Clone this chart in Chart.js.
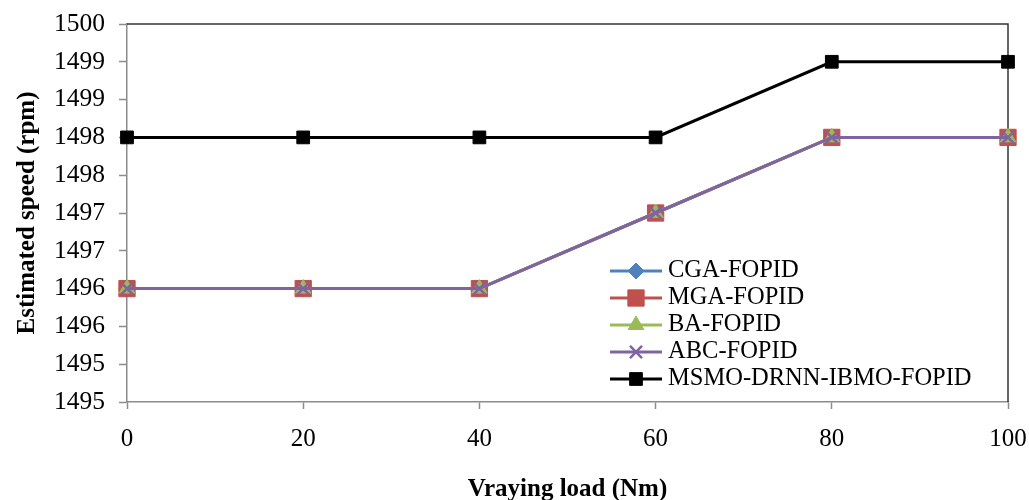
<!DOCTYPE html>
<html>
<head>
<meta charset="utf-8">
<script src="https://cdn.jsdelivr.net/npm/chart.js@4.4.0/dist/chart.umd.min.js"></script>
<style>
  html, body { margin: 0; padding: 0; background: #fff; }
  #wrap { width: 1029px; height: 500px; }
</style>
</head>
<body>
<div id="wrap"><canvas id="speedChart" width="1029" height="500"></canvas></div>
<script>
// load steps (Nm) and estimated speed per controller (rpm)
const loads = [0, 20, 40, 60, 80, 100];
const cgaFopid = [1496, 1496, 1496, 1497, 1498, 1498];
const mgaFopid = [1496, 1496, 1496, 1497, 1498, 1498];
const baFopid = [1496, 1496, 1496, 1497, 1498, 1498];
const abcFopid = [1496, 1496, 1496, 1497, 1498, 1498];
const msmoFopid = [1498, 1498, 1498, 1498, 1499, 1499];

// y ticks every 0.5 rpm, shown with no decimals
const speedTicks = [1494.5, 1495, 1495.5, 1496, 1496.5, 1497, 1497.5, 1498, 1498.5, 1499, 1499.5];

const serif = '"Liberation Serif", "Times New Roman", serif';
const axisGray = '#8c8c8c';

function series(label, data, color, style, radius, order, extra) {
    return Object.assign({
        label: label,
        data: data,
        borderColor: color,
        backgroundColor: color,
        borderWidth: 3,
        pointStyle: style,
        pointRadius: radius,
        pointHoverRadius: radius,
        pointBackgroundColor: color,
        pointBorderColor: color,
        pointBorderWidth: 1,
        tension: 0,
        fill: false,
        clip: false,
        order: order,
    }, extra || {});
}

// top and right frame lines of the plot area
const framePlugin = {
    id: 'frame',
    beforeDatasetsDraw(chart) {
        const { ctx, chartArea } = chart;
        ctx.save();
        ctx.strokeStyle = '#333';
        ctx.lineWidth = 1.5;
        ctx.beginPath();
        ctx.moveTo(chartArea.left, chartArea.top);
        ctx.lineTo(chartArea.right, chartArea.top);
        ctx.lineTo(chartArea.right, chartArea.bottom);
        ctx.stroke();
        ctx.restore();
    }
};

// legend drawn inside the plot, lower right
const insideLegend = {
    id: 'insideLegend',
    afterDraw(chart) {
        const ctx = chart.ctx;
        const x0 = 610, lineLen = 52, top = 271, rowGap = 27;
        chart.data.datasets.forEach((ds, i) => {
            const y = top + i * rowGap;
            ctx.save();
            ctx.strokeStyle = ds.borderColor;
            ctx.lineWidth = ds.borderWidth;
            ctx.beginPath();
            ctx.moveTo(x0, y);
            ctx.lineTo(x0 + lineLen, y);
            ctx.stroke();
            ctx.fillStyle = ds.pointBackgroundColor;
            ctx.strokeStyle = ds.pointBorderColor;
            ctx.lineWidth = ds.pointBorderWidth;
            Chart.helpers.drawPoint(ctx, {
                pointStyle: ds.pointStyle,
                radius: ds.pointRadius,
                rotation: 0,
                borderWidth: ds.pointBorderWidth
            }, x0 + lineLen / 2, y);
            ctx.fillStyle = '#000';
            ctx.font = '24.5px ' + serif;
            ctx.textBaseline = 'middle';
            ctx.textAlign = 'left';
            ctx.fillText(ds.label, 668, y);
            ctx.restore();
        });
    }
};

const speedChart = new Chart(document.getElementById('speedChart'), {
    type: 'line',
    data: {
        labels: loads,
        datasets: [
            series('CGA-FOPID', cgaFopid, '#4F81BD', 'rectRot', 8, 4),
            series('MGA-FOPID', mgaFopid, '#C0504D', 'rect', 11.5, 3),
            series('BA-FOPID', baFopid, '#9BBB59', 'triangle', 9, 2),
            series('ABC-FOPID', abcFopid, '#8064A2', 'crossRot', 8.5, 1, { pointBorderWidth: 2.5 }),
            series('MSMO-DRNN-IBMO-FOPID', msmoFopid, '#000000', 'rect', 9, 0),
        ],
    },
    options: {
        responsive: false,
        animation: false,
        layout: { padding: { top: 24, right: 21, left: 0, bottom: 0 } },
        plugins: {
            legend: { display: false },
            tooltip: { enabled: false },
        },
        scales: {
            x: {
                type: 'category',
                afterFit(scale) {
                    scale.height = 98;
                    scale.paddingLeft = 0;
                    scale.paddingRight = 0;
                },
                grid: {
                    drawOnChartArea: false,
                    tickLength: 7,
                    tickColor: axisGray,
                    tickWidth: 1.5,
                },
                border: { color: axisGray, width: 1.5 },
                ticks: {
                    color: '#000',
                    padding: 15,
                    maxRotation: 0,
                    font: { family: serif, size: 25 },
                },
                title: {
                    display: true,
                    text: 'Vraying load (Nm)',
                    color: '#000',
                    padding: { top: 0, bottom: -5 },
                    font: { family: serif, size: 25, weight: 'bold' },
                },
            },
            y: {
                min: speedTicks[0],
                max: speedTicks[speedTicks.length - 1],
                afterFit(scale) {
                    scale.width = 127;
                    scale.paddingTop = 0;
                    scale.paddingBottom = 0;
                },
                afterBuildTicks(scale) {
                    scale.ticks = speedTicks.map(v => ({ value: v }));
                },
                grid: {
                    drawOnChartArea: false,
                    tickLength: 8,
                    tickColor: axisGray,
                    tickWidth: 1.5,
                },
                border: { color: axisGray, width: 1.5 },
                ticks: {
                    color: '#000',
                    padding: 14,
                    font: { family: serif, size: 25.5 },
                    callback: value => Math.round(value).toString(),
                },
                title: {
                    display: true,
                    text: 'Estimated speed (rpm)',
                    color: '#000',
                    padding: { top: 13, bottom: 0 },
                    font: { family: serif, size: 25, weight: 'bold' },
                },
            },
        },
    },
    plugins: [framePlugin, insideLegend],
});
</script>
</body>
</html>
